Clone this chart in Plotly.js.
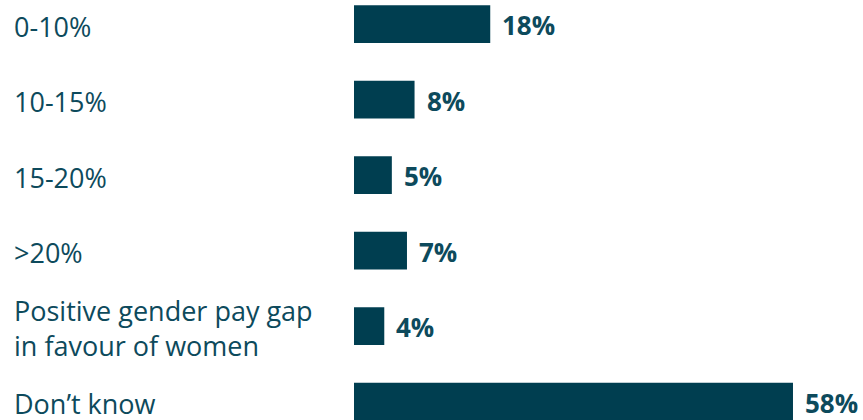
<!DOCTYPE html>
<html><head><meta charset="utf-8">
<script src="https://cdn.plot.ly/plotly-3.0.1.min.js"></script>
<style>html,body{margin:0;padding:0;background:#fff;}#chart{width:863px;height:420px;}</style>
</head><body><div id="chart"></div>
<script>
const categories = ["0-10%", "10-15%", "15-20%", ">20%", "Positive gender pay gap<br>in favour of women", "Don’t know"];
const values = [18, 8, 5, 7, 4, 58];
const valueLabels = ["18%", "8%", "5%", "7%", "4%", "58%"];

const barColor = "#003e50";
const textColor = "#0d4a5c";
const ids = categories.map((c, i) => "c" + i);

const annotations = [];
categories.forEach((c, i) => {
  annotations.push({
    xref: "paper", yref: "y", x: -0.672, y: ids[i], xanchor: "left", yanchor: "middle",
    yshift: -2, text: c, showarrow: false, align: "left",
    font: {family: "Open Sans", size: 27, color: textColor}
  });
  annotations.push({
    xref: "x", yref: "y", x: values[i], y: ids[i], xanchor: "left", yanchor: "middle",
    xshift: 10, yshift: -1, text: "<b>" + valueLabels[i] + "</b>", showarrow: false,
    font: {family: "Open Sans", size: 26, color: textColor}
  });
});

Plotly.newPlot("chart", [{
  type: "bar", orientation: "h", x: values, y: ids,
  marker: {color: barColor}, width: 0.5, hoverinfo: "none"
}], {
  width: 863, height: 420,
  margin: {l: 354, r: 0, t: 0, b: 0},
  paper_bgcolor: "#fff", plot_bgcolor: "#fff",
  xaxis: {range: [0, 67.25], visible: false, fixedrange: true},
  yaxis: {type: "category", range: [5.242, -0.318], visible: false, fixedrange: true},
  showlegend: false,
  annotations: annotations
}, {staticPlot: true});
</script></body></html>
